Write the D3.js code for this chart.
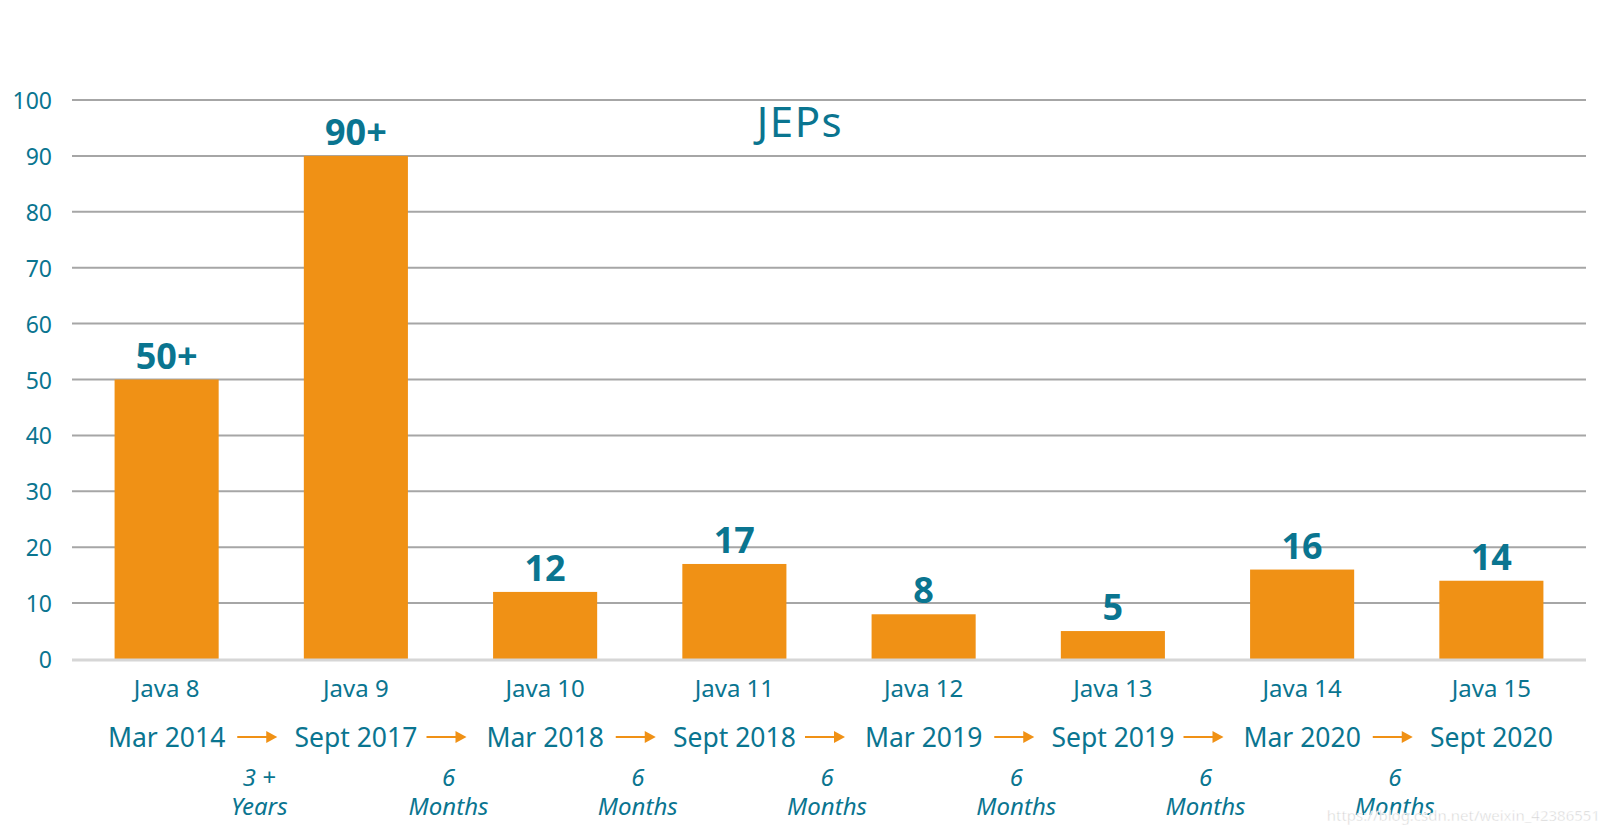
<!DOCTYPE html>
<html>
<head>
<meta charset="utf-8">
<script src="https://cdn.jsdelivr.net/npm/d3@7"></script>
<style>
  html, body { margin: 0; padding: 0; background: #ffffff; }
  svg { display: block; }
  text { font-family: "Noto Sans", "Open Sans", sans-serif; }
</style>
</head>
<body>
<svg id="chart" width="1608" height="836"></svg>
<script>
const categories = ["Java 8", "Java 9", "Java 10", "Java 11", "Java 12", "Java 13", "Java 14", "Java 15"];
const values = [50, 90, 12, 17, 8, 5, 16, 14];
const valueLabels = ["50+", "90+", "12", "17", "8", "5", "16", "14"];
const releaseDates = ["Mar 2014", "Sept 2017", "Mar 2018", "Sept 2018", "Mar 2019", "Sept 2019", "Mar 2020", "Sept 2020"];
const gapAmounts = ["3 +", "6", "6", "6", "6", "6", "6"];
const gapUnits = ["Years", "Months", "Months", "Months", "Months", "Months", "Months"];
const yTicks = [0, 10, 20, 30, 40, 50, 60, 70, 80, 90, 100];
const title = "JEPs";
const watermark = "https://blog.csdn.net/weixin_42386551";

const TEAL = "#0a7590";
const ORANGE = "#f09115";

const svg = d3.select("#chart");

const x = d3.scaleBand()
  .domain(categories)
  .range([72, 1586])
  .paddingInner(0.45)
  .paddingOuter(0.225);

const y = d3.scaleLinear().domain([0, 100]).range([659, 100]);

// grid lines
svg.append("g").selectAll("line")
  .data(yTicks.filter(t => t !== 0))
  .join("line")
  .attr("x1", 72).attr("x2", 1586)
  .attr("y1", d => y(d)).attr("y2", d => y(d))
  .attr("stroke", "#a6a6a6").attr("stroke-width", 2);

// y tick labels
svg.append("g").selectAll("text")
  .data(yTicks)
  .join("text")
  .attr("x", 52).attr("y", d => y(d))
  .attr("text-anchor", "end")
  .attr("dominant-baseline", "central")
  .attr("fill", TEAL)
  .attr("font-size", 23)
  .text(d => d);

// bars
svg.append("g").selectAll("rect")
  .data(values)
  .join("rect")
  .attr("x", (d, i) => x(categories[i]))
  .attr("width", x.bandwidth())
  .attr("y", d => y(d))
  .attr("height", d => y(0) - y(d))
  .attr("fill", ORANGE);

// zero baseline
svg.append("line")
  .attr("x1", 72).attr("x2", 1586)
  .attr("y1", y(0) + 1).attr("y2", y(0) + 1)
  .attr("stroke", "#d6d6d6").attr("stroke-width", 3);

// value labels
svg.append("g").selectAll("text")
  .data(values)
  .join("text")
  .attr("x", (d, i) => x(categories[i]) + x.bandwidth() / 2)
  .attr("y", d => y(d) - 11)
  .attr("text-anchor", "middle")
  .attr("fill", TEAL)
  .attr("font-size", 36)
  .attr("font-weight", "bold")
  .text((d, i) => valueLabels[i]);

// title
svg.append("text")
  .attr("x", 800).attr("y", 137)
  .attr("text-anchor", "middle")
  .attr("fill", TEAL)
  .attr("font-size", 42)
  .attr("letter-spacing", 1.5)
  .text(title);

// category labels
svg.append("g").selectAll("text")
  .data(categories)
  .join("text")
  .attr("x", d => x(d) + x.bandwidth() / 2)
  .attr("y", 697)
  .attr("text-anchor", "middle")
  .attr("fill", TEAL)
  .attr("font-size", 24)
  .text(d => d);

// release dates
svg.append("g").selectAll("text")
  .data(releaseDates)
  .join("text")
  .attr("x", (d, i) => x(categories[i]) + x.bandwidth() / 2)
  .attr("y", 747)
  .attr("text-anchor", "middle")
  .attr("fill", TEAL)
  .attr("font-size", 26.5)
  .text(d => d);

// arrows between dates (at band boundaries)
const boundary = i => x(categories[i + 1]) - x.step() * x.paddingInner() / 2;
const arrows = svg.append("g").selectAll("g")
  .data(gapAmounts)
  .join("g")
  .attr("transform", (d, i) => `translate(${boundary(i) - 4},737)`);
arrows.append("line")
  .attr("x1", -20).attr("x2", 10)
  .attr("y1", 0).attr("y2", 0)
  .attr("stroke", ORANGE).attr("stroke-width", 2);
arrows.append("path")
  .attr("d", "M9,-6 L20,0 L9,6 Z")
  .attr("fill", ORANGE);

// gap durations
svg.append("g").selectAll("text")
  .data(gapAmounts)
  .join("text")
  .attr("x", (d, i) => boundary(i) - 2)
  .attr("y", 786)
  .attr("text-anchor", "middle")
  .attr("fill", TEAL)
  .attr("font-size", 24)
  .attr("font-style", "italic")
  .text(d => d);
svg.append("g").selectAll("text")
  .data(gapUnits)
  .join("text")
  .attr("x", (d, i) => boundary(i) - 2)
  .attr("y", 815)
  .attr("text-anchor", "middle")
  .attr("fill", TEAL)
  .attr("font-size", 24)
  .attr("font-style", "italic")
  .text(d => d);

// watermark
svg.append("text")
  .attr("x", 1600).attr("y", 821)
  .attr("text-anchor", "end")
  .attr("fill", "#d2d2d2")
  .attr("stroke", "#ffffff").attr("stroke-width", 0.5)
  .attr("font-family", "Liberation Sans, Arial, sans-serif")
  .attr("font-size", 15)
  .text(watermark);
</script>
</body>
</html>
